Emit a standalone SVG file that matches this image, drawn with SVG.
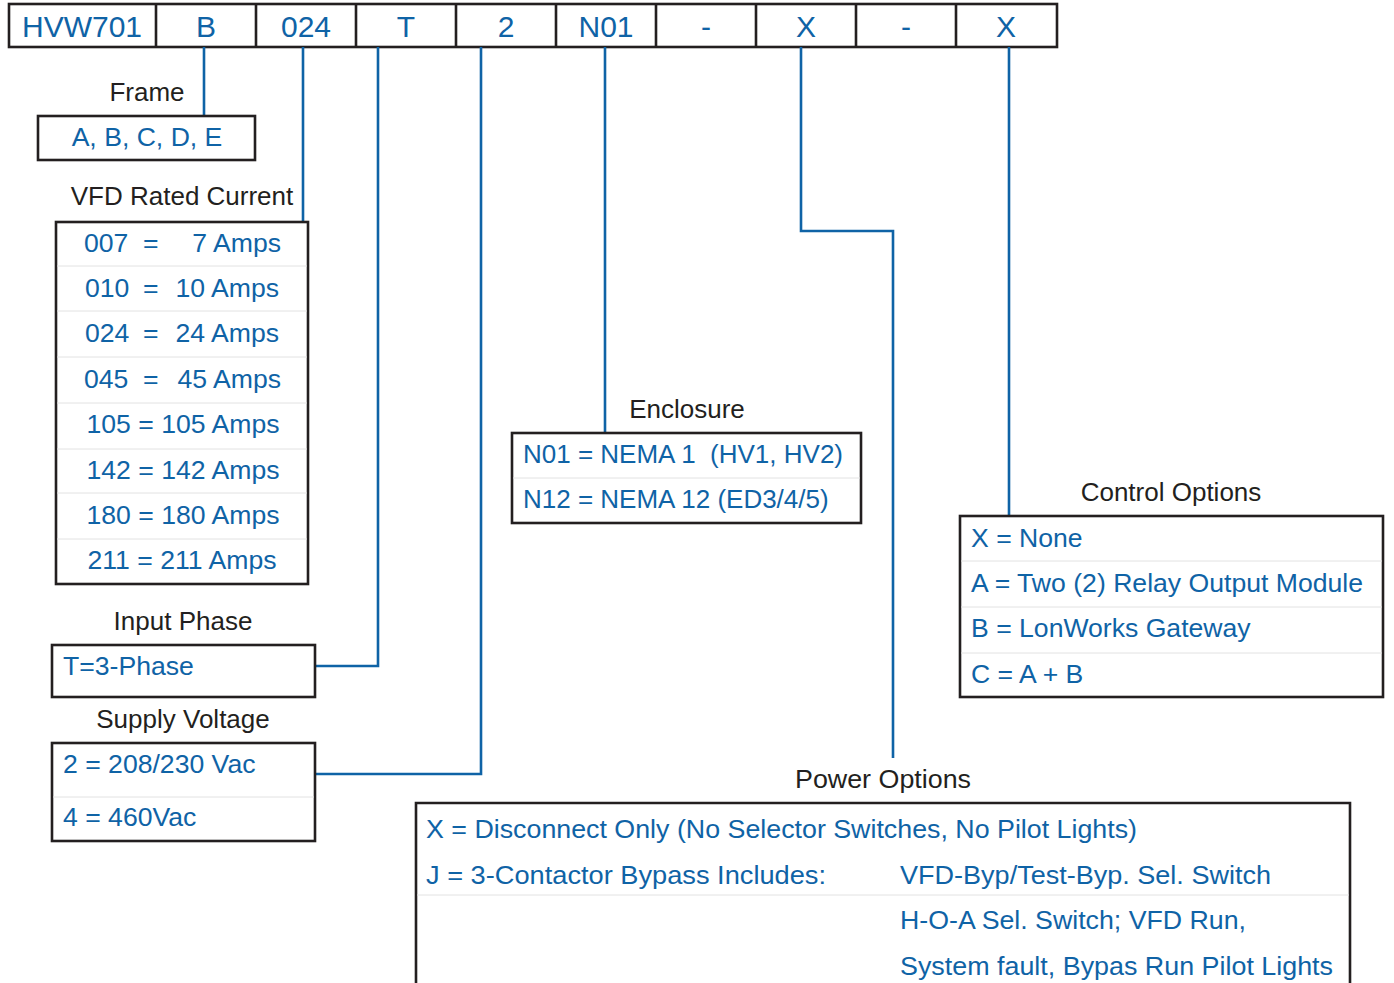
<svg xmlns="http://www.w3.org/2000/svg" width="1394" height="983" viewBox="0 0 1394 983">
<style>
.bx{fill:#fff;stroke:#231f20;stroke-width:2.6}
.sep{stroke:#e2e2e2;stroke-width:1}
.ln{fill:none;stroke:#0f63a6;stroke-width:2.6}
text{font-family:"Liberation Sans",Arial,sans-serif;font-size:26px}
.b{fill:#0f63a6;font-size:26.6px}
.e{font-size:26px}
.k{fill:#231f20}
.top{font-size:30px;text-anchor:middle;fill:#0f63a6}
.m{text-anchor:middle}
</style>
<rect width="1394" height="983" fill="#fff"/>
<g id="code-bar">
<rect class="bx" x="9" y="4" width="1048" height="43"/>
<path d="M156 4V47M256 4V47M356 4V47M456 4V47M556 4V47M656 4V47M756 4V47M856 4V47M956 4V47" stroke="#231f20" stroke-width="2.6"/>
<text class="top" x="82" y="37">HVW701</text>
<text class="top" x="206" y="37">B</text>
<text class="top" x="306" y="37">024</text>
<text class="top" x="406" y="37">T</text>
<text class="top" x="506" y="37">2</text>
<text class="top" x="606" y="37">N01</text>
<text class="top" x="706" y="37">-</text>
<text class="top" x="806" y="37">X</text>
<text class="top" x="906" y="37">-</text>
<text class="top" x="1006" y="37">X</text>
</g>
<g id="connectors">
<path class="ln" d="M204 47V116"/>
<path class="ln" d="M303 47V222"/>
<path class="ln" d="M378 47V666H315"/>
<path class="ln" d="M481 47V774H315"/>
<path class="ln" d="M605 47V433"/>
<path class="ln" d="M801 47V231H893V758"/>
<path class="ln" d="M1009 47V516"/>
</g>
<g id="frame">
<text class="k m" x="147" y="101">Frame</text>
<rect class="bx" x="38" y="116" width="217" height="44"/>
<text class="b m" x="147" y="146">A, B, C, D, E</text>
</g>
<g id="vfd-rated-current">
<text class="k m" x="182" y="205">VFD Rated Current</text>
<rect class="bx" x="56" y="222" width="252" height="362"/>
<path class="sep" d="M57 266H307M57 311H307M57 357H307M57 403H307M57 449H307M57 493H307M57 539H307"/>
<text class="b" y="252"><tspan x="84">007</tspan><tspan x="143">=</tspan><tspan x="281" text-anchor="end">7 Amps</tspan></text>
<text class="b" y="297"><tspan x="85">010</tspan><tspan x="143">=</tspan><tspan x="279" text-anchor="end">10 Amps</tspan></text>
<text class="b" y="342"><tspan x="85">024</tspan><tspan x="143">=</tspan><tspan x="279" text-anchor="end">24 Amps</tspan></text>
<text class="b" y="388"><tspan x="84">045</tspan><tspan x="143">=</tspan><tspan x="281" text-anchor="end">45 Amps</tspan></text>
<text class="b m" x="183" y="433">105 = 105 Amps</text>
<text class="b m" x="183" y="479">142 = 142 Amps</text>
<text class="b m" x="183" y="524">180 = 180 Amps</text>
<text class="b m" x="182" y="569">211 = 211 Amps</text>
</g>
<g id="input-phase">
<text class="k m" x="183" y="630">Input Phase</text>
<rect class="bx" x="52" y="645" width="263" height="52"/>
<text class="b" x="63" y="675">T=3-Phase</text>
</g>
<g id="supply-voltage">
<text class="k m" x="183" y="728">Supply Voltage</text>
<rect class="bx" x="52" y="743" width="263" height="98"/>
<path class="sep" d="M53 797H314"/>
<text class="b" x="63" y="773">2 = 208/230 Vac</text>
<text class="b" x="63" y="826">4 = 460Vac</text>
</g>
<g id="enclosure">
<text class="k m" x="687" y="418">Enclosure</text>
<rect class="bx" x="512" y="433" width="349" height="90"/>
<path class="sep" d="M513 478H860"/>
<text class="b e" y="463"><tspan x="523">N01 = NEMA 1</tspan><tspan x="843" text-anchor="end">(HV1, HV2)</tspan></text>
<text class="b e" x="523" y="508">N12 = NEMA 12 (ED3/4/5)</text>
</g>
<g id="control-options">
<text class="k m" x="1171" y="501">Control Options</text>
<rect class="bx" x="960" y="516" width="423" height="181"/>
<path class="sep" d="M961 561H1382M961 607H1382M961 653H1382"/>
<text class="b" x="971" y="547">X = None</text>
<text class="b" x="971" y="592">A = Two (2) Relay Output Module</text>
<text class="b" x="971" y="637">B = LonWorks Gateway</text>
<text class="b" x="971" y="683">C = A + B</text>
</g>
<g id="power-options">
<text class="k m" x="883" y="788" textLength="176" lengthAdjust="spacingAndGlyphs">Power Options</text>
<path class="bx" d="M416 985V803H1350V985"/>
<path class="sep" d="M417 895H1349"/>
<text class="b" x="426" y="838" textLength="711" lengthAdjust="spacingAndGlyphs">X = Disconnect Only (No Selector Switches, No Pilot Lights)</text>
<text class="b" x="426" y="884" textLength="400" lengthAdjust="spacingAndGlyphs">J = 3-Contactor Bypass Includes:</text>
<text class="b" x="900" y="884" textLength="371" lengthAdjust="spacingAndGlyphs">VFD-Byp/Test-Byp. Sel. Switch</text>
<text class="b" x="900" y="929" textLength="346" lengthAdjust="spacingAndGlyphs">H-O-A Sel. Switch; VFD Run,</text>
<text class="b" x="900" y="975" textLength="433" lengthAdjust="spacingAndGlyphs">System fault, Bypas Run Pilot Lights</text>
</g>
</svg>
